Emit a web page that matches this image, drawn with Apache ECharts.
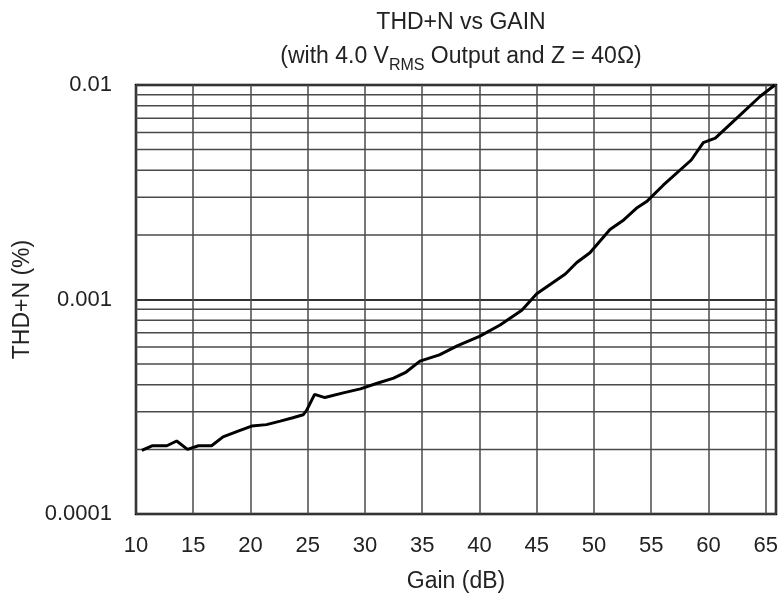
<!DOCTYPE html>
<html>
<head>
    <meta charset="UTF-8">
    <script src="https://cdn.jsdelivr.net/npm/echarts@6/dist/echarts.min.js"></script>
    <style>
        html, body { margin: 0; padding: 0; background: #fff; overflow: hidden; }
    </style>
</head>
<body>
<div id="chartMain" style="width: 782px; height: 598px;"></div>

<script type="text/javascript">
    // gain in dB, thd+n in %
    var gain = [10.5, 11.4, 12.7, 13.55, 14.5, 15.45, 16.6, 17.6, 18.8, 20.1, 21.4, 22.6, 23.7, 24.6, 24.9,
        25.6, 26.5, 28.1, 29.6, 31.0, 32.5, 33.6, 34.8, 36.5, 38.1, 40.0, 41.8, 43.7, 45.0, 47.5,
        48.5, 49.65, 51.4, 52.6, 53.7, 54.6, 56.05, 58.5, 59.55, 60.6, 62.5, 64.5, 65.8];
    var thdn = [0.000198, 0.000208, 0.000208, 0.000219, 0.000200, 0.000208, 0.000208, 0.000229, 0.000242, 0.000257,
        0.000261, 0.000271, 0.000281, 0.000290, 0.000304, 0.000361, 0.000349, 0.000367, 0.000383, 0.000406,
        0.000430, 0.000459, 0.000516, 0.000552, 0.000610, 0.000673, 0.000761, 0.000891, 0.001064, 0.001315,
        0.001487, 0.001653, 0.00212, 0.00235, 0.00266, 0.00286, 0.00341, 0.00447, 0.00539, 0.00565,
        0.00703, 0.00884, 0.0100];
    // minor horizontal grid lines of the log scale
    var minorLines = [0.0002, 0.0003, 0.0004, 0.0005, 0.0006, 0.0007, 0.0008, 0.0009,
        0.002, 0.003, 0.004, 0.005, 0.006, 0.007, 0.008, 0.009];
    var xMin = 10, xMax = 65.9;

    var pts = [];
    for (var i = 0; i < gain.length; i++) {
        pts.push([gain[i], thdn[i]]);
    }

    var gridColor = '#4a4a4a';
    var series = [];
    for (var j = 0; j < minorLines.length; j++) {
        series.push({
            type: 'line',
            silent: true,
            showSymbol: false,
            data: [[xMin, minorLines[j]], [xMax, minorLines[j]]],
            lineStyle: {color: gridColor, width: 1.5},
            z: 1
        });
    }
    series.push({
        type: 'line',
        data: pts,
        showSymbol: false,
        smooth: false,
        lineStyle: {color: '#000', width: 3},
        z: 5
    });

    var font = 'Liberation Sans, Arial, sans-serif';
    var myChart = echarts.init(document.getElementById('chartMain'));
    var option = {
        backgroundColor: '#fff',
        animation: false,
        title: {
            left: 456,
            top: 1,
            textAlign: 'center',
            text: '{a|THD+N vs GAIN}\n{a|(with 4.0 V}{s|RMS}{a| Output and Z = 40Ω)}',
            textStyle: {
                rich: {
                    a: {fontFamily: font, fontSize: 23, fontWeight: 'normal', color: '#222', lineHeight: 34},
                    s: {fontFamily: font, fontSize: 16, fontWeight: 'normal', color: '#222', lineHeight: 34, verticalAlign: 'bottom', padding: [12, 0, 0, 0]}
                }
            }
        },
        grid: {
            left: 136,
            width: 640,
            top: 85,
            height: 435,
            show: true,
            borderColor: '#000',
            borderWidth: 2.5
        },
        xAxis: {
            type: 'value',
            min: xMin,
            max: xMax,
            interval: 5,
            name: 'Gain (dB)',
            nameLocation: 'middle',
            nameGap: 56,
            nameTextStyle: {fontFamily: font, fontSize: 23, color: '#222'},
            axisLine: {show: false},
            axisTick: {show: false},
            axisLabel: {
                margin: 21,
                fontFamily: font,
                fontSize: 22,
                color: '#222',
                showMaxLabel: false,
                formatter: function (v) {
                    return v % 5 === 0 ? String(v) : '';
                }
            },
            splitLine: {show: true, lineStyle: {color: gridColor, width: 1.5}}
        },
        yAxis: {
            type: 'log',
            logBase: 10,
            min: 0.0001,
            max: 0.01,
            name: 'THD+N (%)',
            nameLocation: 'middle',
            nameGap: 98,
            nameRotate: 90,
            nameTextStyle: {fontFamily: font, fontSize: 23, color: '#222'},
            axisLine: {show: false},
            axisTick: {show: false},
            axisLabel: {
                margin: 24,
                fontFamily: font,
                fontSize: 22,
                color: '#222',
                formatter: function (v) {
                    return String(parseFloat(Number(v).toPrecision(3)));
                }
            },
            splitLine: {show: true, lineStyle: {color: '#333', width: 2}}
        },
        series: series
    };
    myChart.setOption(option);
</script>
</body>
</html>
